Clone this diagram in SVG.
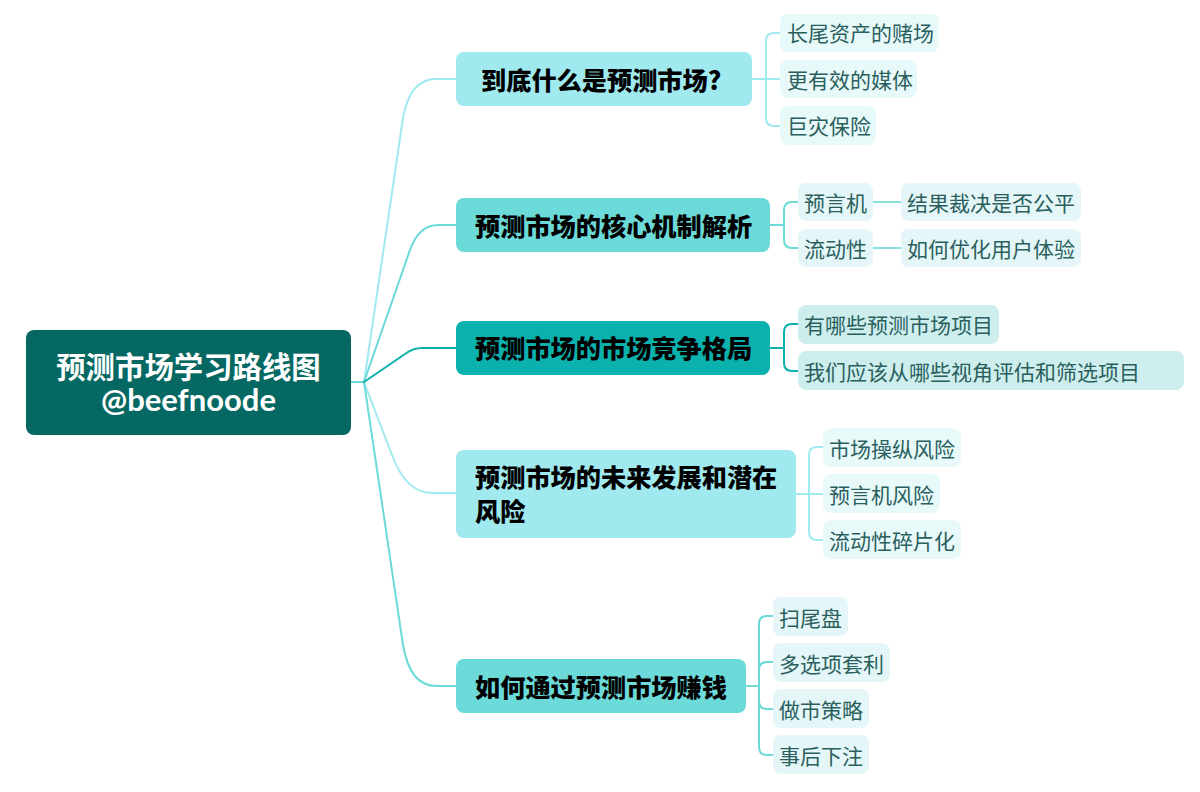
<svg xmlns="http://www.w3.org/2000/svg" width="1200" height="792" viewBox="0 0 1200 792">
<style>
text{font-family:"Noto Sans CJK SC","Noto Sans",sans-serif}
.c{fill:none;stroke-width:2;stroke-linecap:round;stroke-linejoin:round}
.cA{stroke:#9fe9ef}.cB{stroke:#6bdad8}.cC{stroke:#0bb1ad}
.b{font-size:25.200px;font-weight:900;fill:#000}
.l{font-size:21px;fill:#2a5f5e}
.la{fill:#e8f9fa}.lb{fill:#e4f6f7}.lc{fill:#cdeeed}
</style>
<rect width="1200" height="792" fill="#fff"/>
<g id="connectors">
<path class="c cA" d="M364 382L403 118Q410 79 436 79H456"/>
<path class="c cB" d="M364 382L410 250Q419 225 438 225H456"/>
<path class="c cA" d="M364 382L392 455Q406 493 432 493H456"/>
<path class="c cB" d="M351 382H364L403 645Q410 686 436 686H456"/>
<path class="c cC" d="M364 382L405 354Q413 348 422 348H456"/>
<path class="c cA" d="M752 79H780M780 33H774Q766 33 766 41V118Q766 126 774 126H780"/>
<path class="c cB" d="M770 225H784M798 202H792Q784 202 784 210V240Q784 248 792 248H798"/>
<path class="c cB" d="M873 202H901M873 248H901" stroke-opacity="0.8"/>
<path class="c cC" d="M770 348H784M798 324H792Q784 324 784 332V363Q784 371 792 371H798"/>
<path class="c cA" d="M796 494H823M823 447H817Q809 447 809 455V532Q809 540 817 540H823"/>
<path class="c cB" d="M746 686H759M773 616H767Q759 616 759 624V747Q759 755 767 755H773M773 662H767Q759 662 759 670V701Q759 709 767 709H773"/>
</g>
<g id="root"><rect x="26" y="330" width="325" height="105" rx="8" fill="#066863"/>
<text text-anchor="middle" fill="#fff"><tspan x="188.500" y="378" font-size="29.400" font-weight="700">预测市场学习路线图</tspan><tspan x="188.500" y="411" font-size="31" font-weight="700" style="font-family:Lato,'Noto Sans',sans-serif">@beefnoode</tspan></text></g>
<g id="b1"><rect x="456" y="52" width="296" height="54" rx="8" fill="#9fe9ef"/><text class="b" x="481" y="90">到底什么是预测市场?</text></g>
<g id="b2"><rect x="456" y="198" width="314" height="54" rx="8" fill="#6bdad8"/><text class="b" x="475" y="236">预测市场的核心机制解析</text></g>
<g id="b3"><rect x="456" y="321" width="314" height="54" rx="8" fill="#0bb1ad"/><text class="b" x="475" y="358">预测市场的市场竞争格局</text></g>
<g id="b4"><rect x="456" y="450" width="340" height="88" rx="8" fill="#9fe9ef"/><text class="b" x="475" y="487">预测市场的未来发展和潜在</text><text class="b" x="475" y="521">风险</text></g>
<g id="b5"><rect x="456" y="659" width="290" height="54" rx="8" fill="#6bdad8"/><text class="b" x="475" y="697">如何通过预测市场赚钱</text></g>
<g id="n11"><rect class="la" x="780" y="14" width="159" height="38" rx="8"/><text class="l" x="787" y="41">长尾资产的赌场</text></g>
<g id="n12"><rect class="la" x="780" y="60" width="137" height="38" rx="8"/><text class="l" x="787" y="88">更有效的媒体</text></g>
<g id="n13"><rect class="la" x="780" y="106" width="96" height="39" rx="8"/><text class="l" x="787" y="134">巨灾保险</text></g>
<g id="n21"><rect class="lb" x="798" y="183" width="75" height="38" rx="8"/><text class="l" x="804" y="211">预言机</text></g>
<g id="n22"><rect class="lb" x="901" y="183" width="180" height="38" rx="8"/><text class="l" x="907" y="211">结果裁决是否公平</text></g>
<g id="n23"><rect class="lb" x="798" y="229" width="75" height="38" rx="8"/><text class="l" x="804" y="257">流动性</text></g>
<g id="n24"><rect class="lb" x="901" y="229" width="180" height="38" rx="8"/><text class="l" x="907" y="257">如何优化用户体验</text></g>
<g id="n31"><rect class="lc" x="798" y="305" width="201" height="39" rx="8"/><text class="l" x="804" y="333">有哪些预测市场项目</text></g>
<g id="n32"><rect class="lc" x="798" y="351" width="386" height="39" rx="8"/><text class="l" x="804" y="380">我们应该从哪些视角评估和筛选项目</text></g>
<g id="n41"><rect class="la" x="823" y="428" width="138" height="39" rx="8"/><text class="l" x="829" y="457">市场操纵风险</text></g>
<g id="n42"><rect class="la" x="823" y="474" width="117" height="39" rx="8"/><text class="l" x="829" y="503">预言机风险</text></g>
<g id="n43"><rect class="la" x="823" y="520" width="138" height="39" rx="8"/><text class="l" x="829" y="549">流动性碎片化</text></g>
<g id="n51"><rect class="lb" x="773" y="597" width="75" height="39" rx="8"/><text class="l" x="779" y="626">扫尾盘</text></g>
<g id="n52"><rect class="lb" x="773" y="643" width="117" height="39" rx="8"/><text class="l" x="779" y="672">多选项套利</text></g>
<g id="n53"><rect class="lb" x="773" y="689" width="96" height="39" rx="8"/><text class="l" x="779" y="718">做市策略</text></g>
<g id="n54"><rect class="lb" x="773" y="735" width="96" height="39" rx="8"/><text class="l" x="779" y="764">事后下注</text></g>
</svg>
